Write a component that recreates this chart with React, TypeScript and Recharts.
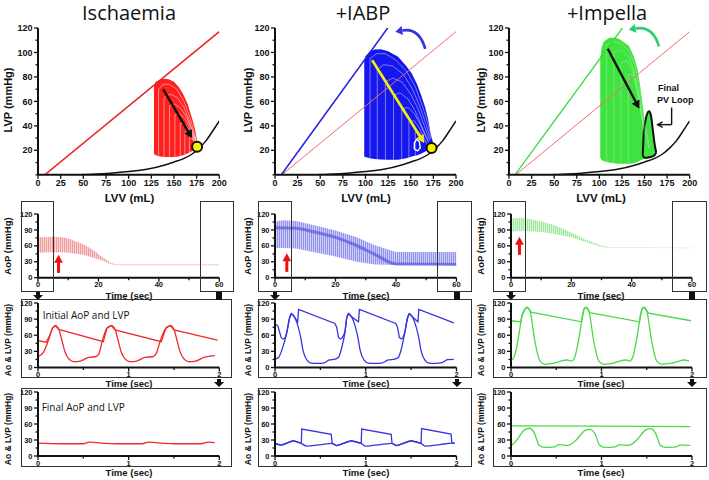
import React from "react";
import {
  ComposedChart,
  Line,
  Area,
  XAxis,
  YAxis,
  ReferenceLine,
  ReferenceDot,
} from "recharts";

// ---------- PV loop panels (LVV mL vs LVP mmHg) ----------
const lvvTicks = [0, 25, 50, 75, 100, 125, 150, 175, 200];
const lvpTicks = [0, 10, 20, 30, 40, 50, 60, 70, 80, 90, 100, 110, 120];
const lvpLabels = [20, 40, 60, 80, 100, 120];

const edpvr = [[40, 0], [60, 0.5], [80, 1.3], [100, 2.6], [120, 4.5], [140, 8], [150, 10.5], [160, 13], [170, 17], [178, 22], [185, 27.5], [192, 35], [200, 44]];

// ischaemia
const ischEspvr = [[7.5, 0], [200, 117]];
const ischFan = [[128, 17, 73], [130, 16, 76], [135, 15, 78], [140, 14.6, 78.5], [145, 14.5, 78], [150, 14.6, 76], [155, 15, 72], [160, 16, 66], [165, 17.5, 58], [170, 19.5, 46], [173, 21, 38], [175, 22.5, 30], [177, 24, 24]];
const ischLoops = [
  [[133, 16], [133, 70], [138, 74], [145, 74], [153, 70], [161, 60], [168, 46], [173, 33], [176, 25]],
  [[139, 15], [139, 63], [146, 66], [154, 63], [161, 55], [167, 44], [172, 33], [175.5, 25]],
  [[145, 15], [145, 56], [151, 58], [158, 54], [164, 47], [169, 38], [173, 30], [175, 25]],
  [[151, 15], [151, 49], [156, 50], [162, 46], [167, 39], [171, 32], [174.5, 26]],
  [[157, 15.5], [157, 42], [161, 42], [165, 39], [169, 34], [173, 28]],
  [[162, 16.5], [162, 35], [166, 35], [169, 32], [172, 28]],
  [[167, 18], [167, 30], [170, 30], [173, 26]],
];
const ischArrow = [[138, 70], [170, 30]];
const ischEnd = [175.5, 23];

// IABP
const iabpEspvr = [[7, 0], [124.5, 120]];
const iabpFan = [[98.6, 15, 93], [100, 14.5, 97], [105, 13.5, 101], [110, 13, 102.5], [117, 12.5, 102.6], [125, 12.3, 101], [136, 12.4, 96.6], [145, 13.5, 89], [151, 15, 83], [157, 16, 74], [162, 17.5, 64], [166, 19, 55], [169.3, 20.5, 45], [172, 21.5, 34], [174, 22, 28], [175.5, 23, 23]];
const iabpLoops = [
  [[105, 14], [105, 95], [112, 99], [122, 99], [133, 94], [145, 85], [155, 72], [163, 56], [169, 42], [173, 30]],
  [[113, 13], [113, 86], [120, 90], [130, 89], [142, 82], [152, 70], [160, 56], [167, 41], [172, 29]],
  [[122, 12.5], [122, 76], [130, 79], [140, 76], [150, 66], [158, 54], [165, 40], [171, 28]],
  [[131, 12.5], [131, 65], [138, 67], [147, 62], [155, 52], [162, 40], [169, 28]],
  [[140, 13], [140, 54], [147, 55], [154, 50], [160, 42], [166, 32], [170, 26]],
  [[148, 14], [148, 44], [154, 44], [159, 39], [164, 31], [168, 25]],
  [[155, 15], [155, 35], [160, 34], [165, 27]],
];
const iabpArrow = [[107.4, 93.6], [164.8, 26]];
const iabpCurl = [[166, 103], [133, 117]];
const iabpEnd = [173, 22];
const iabpLastLoop = [[154, 21], [154, 26], [156.5, 29], [159.5, 27], [160.5, 22], [157.5, 19.5], [154, 21]];

// Impella
const impEspvr = [[6.6, 0], [125.5, 120]];
const impFan = [[101, 14, 95], [102.5, 12, 104], [105, 11, 109], [111, 10, 112], [118, 9.3, 112], [122, 9, 111], [128, 9, 108], [133, 9, 105], [138, 9.5, 97], [142, 10.5, 87], [145, 11.5, 74], [147.5, 12.5, 60], [151, 13, 40], [154.6, 14.5, 24], [158, 16, 21], [162, 18, 19]];
const impLoops = [
  [[108, 10], [108, 106], [115, 109], [125, 107], [133, 101], [139, 90], [144, 74], [148, 55], [152, 35], [156, 22]],
  [[116, 9.5], [116, 100], [124, 102], [132, 97], [138, 86], [143, 70], [147, 52], [151, 33], [155, 21]],
  [[124, 9.5], [124, 92], [131, 93], [137, 85], [142, 70], [146, 52], [150, 33]],
  [[132, 10], [132, 82], [137, 82], [141, 72], [145, 56], [149, 38]],
];
const impArrow = [[109.3, 103], [144.3, 54]];
const impCurl = [[166, 105], [132.5, 118.7]];
const impLastLoop = [[148, 16, 16], [149, 14.5, 32], [151, 14, 44], [153, 14, 50], [155, 14.3, 52], [157, 14.6, 49], [159, 15, 38], [161, 16, 26], [163, 18, 18]];
const impCallout = [[180, 55], [180, 41], [164.5, 41]];

// ---------- pressure vs time panels ----------
const secTicks60 = [0, 10, 20, 30, 40, 50, 60];
const secLabels60 = [0, 20, 40, 60];
const secTicks2 = [0, 0.5, 1, 1.5, 2];
const secLabels2 = [0, 1, 2];
const mmTicks = [0, 15, 30, 45, 60, 75, 90, 105, 120];
const mmLabels = [0, 30, 60, 90, 120];

// AoP over 60 s: [t, min, max]
const ischAoP60 = [[0, 47, 76], [5, 48, 77], [8, 48, 76], [10, 47, 74], [15, 43, 63], [18, 38, 53], [21, 33, 40], [24, 26, 28], [26, 23.5, 25], [60, 23.5, 25]];
const iabpAoP60 = [[0, 56, 106], [3, 56, 108], [7, 55, 107], [13, 48, 99], [20, 40, 89], [27, 30, 76], [33, 25, 61], [40, 24, 48.5], [60, 24, 48.5]];
const iabpAoP60Dense = [[0, 94], [7, 93], [13, 86], [20, 76], [26, 63], [33, 44], [40, 26], [60, 25]];
const impAoP60 = [[0, 87, 112], [4, 88, 113], [10, 86, 106], [15, 82, 98], [20, 76, 85], [25, 67, 71], [30, 58, 60], [33, 56.5, 57.5], [60, 55.5, 56.5]];
const ischStartArrow = [[6.8, 9], [6.8, 43]];
const iabpStartArrow = [[3.9, 11], [3.9, 46]];
const impStartArrow = [[2.8, 43], [2.8, 77]];

// initial 2 s
const ischInitLVP = [[0, 20], [0.06, 28], [0.12, 53], [0.16, 73], [0.19, 78], [0.23, 71], [0.26, 53], [0.3, 28], [0.34, 16], [0.39, 11], [0.47, 12], [0.56, 19], [0.63, 20], [0.67, 25], [0.71, 50], [0.76, 73], [0.81, 78], [0.85, 71], [0.88, 53], [0.92, 28], [0.96, 16], [1.01, 11], [1.09, 12], [1.18, 19], [1.26, 20], [1.3, 25], [1.35, 50], [1.41, 73], [1.46, 78], [1.5, 71], [1.53, 53], [1.57, 28], [1.61, 16], [1.66, 11], [1.74, 12], [1.83, 19], [1.9, 21], [1.95, 22]];
const ischInitAoP = [[0, 50], [0.09, 47], [0.13, 60], [0.16, 73], [0.19, 78], [0.23, 71], [0.72, 48], [0.76, 73], [0.81, 78], [0.85, 70], [1.36, 48], [1.41, 73], [1.46, 78], [1.5, 70], [1.98, 51]];
const iabpInitLVP = [[0, 15.5], [0.04, 19], [0.09, 40], [0.13, 65], [0.16, 92], [0.18, 100], [0.21, 95], [0.24, 84], [0.28, 59], [0.31, 31], [0.35, 14], [0.4, 8], [0.47, 7.5], [0.53, 8], [0.6, 14], [0.66, 15.5], [0.7, 19], [0.74, 40], [0.77, 65], [0.79, 92], [0.81, 100], [0.84, 95], [0.87, 84], [0.91, 59], [0.94, 31], [0.98, 14], [1.03, 8], [1.1, 7.5], [1.17, 8], [1.25, 14], [1.32, 15.5], [1.36, 19], [1.4, 40], [1.43, 65], [1.46, 92], [1.48, 100], [1.51, 95], [1.54, 84], [1.58, 59], [1.61, 31], [1.65, 14], [1.7, 8], [1.77, 7.5], [1.84, 9], [1.9, 14.5], [1.97, 15]];
const iabpInitAoP = [[0, 81], [0.03, 78], [0.05, 66], [0.07, 55], [0.09, 53], [0.11, 55], [0.13, 65], [0.16, 92], [0.18, 100], [0.21, 95], [0.25, 85], [0.26, 108], [0.66, 82], [0.68, 75], [0.7, 56], [0.72, 53], [0.74, 55], [0.77, 65], [0.79, 92], [0.81, 100], [0.84, 95], [0.92, 85], [0.93, 108], [1.33, 82], [1.35, 75], [1.37, 56], [1.39, 53], [1.41, 55], [1.43, 65], [1.46, 92], [1.48, 100], [1.51, 95], [1.575, 85], [1.585, 108], [1.97, 83]];
const impInitLVP = [[0, 12.4], [0.04, 22], [0.085, 59], [0.12, 96], [0.16, 110], [0.18, 112], [0.21, 106], [0.23, 87], [0.26, 53], [0.29, 28], [0.32, 12], [0.38, 6], [0.47, 7.5], [0.55, 12], [0.62, 14], [0.67, 12], [0.71, 22], [0.755, 59], [0.79, 96], [0.81, 110], [0.83, 112], [0.86, 106], [0.88, 87], [0.91, 53], [0.94, 28], [0.97, 12], [1.03, 6], [1.12, 7.5], [1.2, 12], [1.27, 14], [1.31, 12], [1.35, 22], [1.395, 59], [1.43, 96], [1.45, 110], [1.47, 112], [1.5, 106], [1.52, 87], [1.55, 53], [1.58, 28], [1.61, 12], [1.67, 6], [1.76, 7.5], [1.84, 11], [1.91, 14], [1.97, 12]];
const impInitAoP = [[0, 87], [0.11, 85], [0.12, 96], [0.16, 110], [0.18, 112], [0.21, 106], [0.22, 103], [0.78, 85], [0.79, 96], [0.81, 110], [0.83, 112], [0.86, 106], [0.87, 102], [1.42, 85], [1.43, 96], [1.45, 110], [1.47, 112], [1.5, 106], [1.52, 101], [1.99, 87]];

// final 2 s
const ischFinal = [[0, 24], [0.25, 23], [0.5, 23], [0.57, 26], [0.65, 25], [0.9, 23], [1.15, 23], [1.22, 26], [1.3, 25], [1.55, 23], [1.8, 23], [1.88, 26], [1.95, 25]];
const iabpFinalLVP = [[0, 23.5], [0.07, 20.5], [0.2, 28.5], [0.29, 23.5], [0.35, 18.5], [0.51, 21.5], [0.63, 23.5], [0.68, 19.5], [0.84, 28.5], [0.95, 23.5], [1.0, 18.5], [1.16, 21.5], [1.29, 23.5], [1.34, 19.5], [1.5, 28.5], [1.61, 23.5], [1.66, 18.5], [1.82, 21.5], [1.95, 24], [1.98, 24]];
const iabpFinalAoP = [[0, 23.5], [0.07, 20.5], [0.2, 28.5], [0.29, 23.5], [0.295, 50.5], [0.62, 40.5], [0.63, 23.5], [0.68, 19.5], [0.84, 28.5], [0.95, 23.5], [0.955, 50.5], [1.28, 40.5], [1.29, 23.5], [1.34, 19.5], [1.5, 28.5], [1.61, 23.5], [1.615, 51.5], [1.94, 41], [1.95, 24], [1.98, 24]];
const impFinalLVP = [[0, 19], [0.05, 27], [0.15, 49], [0.2, 52], [0.26, 42.5], [0.31, 20], [0.37, 16], [0.48, 17], [0.53, 21.5], [0.59, 20], [0.65, 21], [0.72, 30], [0.82, 48], [0.87, 50], [0.93, 41], [0.98, 20], [1.04, 16], [1.15, 17], [1.2, 21.5], [1.26, 20], [1.32, 21], [1.39, 30], [1.49, 49], [1.54, 51.5], [1.6, 42], [1.65, 20], [1.71, 16], [1.82, 17], [1.88, 21], [1.94, 20], [1.98, 20]];
const impFinalAoP = [[0, 56.5], [1, 56], [1.98, 55]];

// ---------- helpers ----------
const RED = "#ee2a2a";
const BLUE = "#3434e0";
const GREEN = "#4ad84a";
const FONT = "'Liberation Sans', Arial, sans-serif";
const TITLE_FONT = "'Open Sans', 'Liberation Sans', sans-serif";

const xy = (a: number[][]) => a.map(([x, y]) => ({ x, y }));
const rng = (a: number[][]) => a.map(([x, lo, hi]) => ({ x, r: [lo, hi] }));
const seg = (a: number[][]) => [{ x: a[0][0], y: a[0][1] }, { x: a[1][0], y: a[1][1] }];

type Frame = { x0: number; x1: number; yT: number; yB: number };
const YW = 34, XH = 22, TP = 8, RP = 8;

function XTick(p: any) {
  const { x, y, payload, labels, fs } = p;
  const major = labels.includes(payload.value);
  const len = major ? 4 : 2.5;
  return (
    <g>
      <line x1={x} x2={x} y1={y} y2={y + len} stroke="#111" strokeWidth={1.3} />
      {major && (
        <text x={x} y={y + len + fs * 0.75} textAnchor="middle" fontSize={fs} fontWeight="bold" fontFamily={FONT} fill="#111">
          {payload.value}
        </text>
      )}
    </g>
  );
}

function YTick(p: any) {
  const { x, y, payload, labels, fs } = p;
  const major = labels.includes(payload.value);
  const len = major ? 4 : 2.5;
  return (
    <g>
      <line x1={x - len} x2={x} y1={y} y2={y} stroke="#111" strokeWidth={1.3} />
      {major && (
        <text x={x - len - 1.5} y={y + fs * 0.35} textAnchor="end" fontSize={fs} fontWeight="bold" fontFamily={FONT} fill="#111">
          {payload.value}
        </text>
      )}
    </g>
  );
}

function Panel(props: any) {
  const { f, xDomain, xTicks, xLabels, yTicks, yLabels, fs, children } = props;
  const w = f.x1 - f.x0 + YW + RP;
  const h = f.yB - f.yT + TP + XH;
  const axis = { stroke: "#111", strokeWidth: 2 };
  return (
    <div style={{ position: "absolute", left: f.x0 - YW, top: f.yT - TP }}>
      <ComposedChart width={w} height={h} margin={{ top: TP, right: RP, bottom: 0, left: 0 }}>
        <XAxis
          type="number"
          dataKey="x"
          domain={xDomain}
          ticks={xTicks}
          interval={0}
          allowDataOverflow
          height={XH}
          tickSize={0}
          tickMargin={0}
          tickLine={false}
          axisLine={axis}
          tick={(p: any) => <XTick {...p} labels={xLabels} fs={fs} />}
        />
        <YAxis
          type="number"
          domain={[0, 120]}
          ticks={yTicks}
          interval={0}
          allowDataOverflow
          width={YW}
          tickSize={0}
          tickMargin={0}
          tickLine={false}
          axisLine={axis}
          tick={(p: any) => <YTick {...p} labels={yLabels} fs={fs} />}
        />
        {children}
      </ComposedChart>
    </div>
  );
}

const arrowShape = (color: string, w: number, head: number, open = false) => (p: any) => {
  const { x1, y1, x2, y2 } = p;
  const dx = x2 - x1, dy = y2 - y1;
  const len = Math.hypot(dx, dy) || 1;
  const ux = dx / len, uy = dy / len;
  const bx = x2 - ux * head, by = y2 - uy * head;
  const px = -uy * head * 0.55, py = ux * head * 0.55;
  if (open) {
    return (
      <g>
        <line x1={x1} y1={y1} x2={x2} y2={y2} stroke={color} strokeWidth={w} />
        <polyline points={`${bx + px},${by + py} ${x2},${y2} ${bx - px},${by - py}`} fill="none" stroke={color} strokeWidth={w} />
      </g>
    );
  }
  return (
    <g>
      <line x1={x1} y1={y1} x2={bx + ux} y2={by + uy} stroke={color} strokeWidth={w} />
      <polygon points={`${x2},${y2} ${bx + px},${by + py} ${bx - px},${by - py}`} fill={color} />
    </g>
  );
};

const curlShape = (color: string) => (p: any) => {
  const { x1, y1, x2, y2 } = p;
  const cx = x1 + 0.2 * (x2 - x1), cy = Math.min(y1, y2) - 4;
  const tx = x2 - cx, ty = y2 - cy;
  const l = Math.hypot(tx, ty) || 1;
  const ux = tx / l, uy = ty / l;
  const head = 7;
  const bx = x2 - ux * head, by = y2 - uy * head;
  const px = -uy * 4.5, py = ux * 4.5;
  return (
    <g>
      <path d={`M${x1},${y1} Q${cx},${cy} ${bx},${by}`} fill="none" stroke={color} strokeWidth={2.6} />
      <polygon points={`${x2},${y2} ${bx + px},${by + py} ${bx - px},${by - py}`} fill={color} />
    </g>
  );
};

const plainLine = (data: number[][], stroke: string, width: number, type: any = "linear", key?: any, opacity = 1) => (
  <Line key={key} data={xy(data)} dataKey="y" type={type} stroke={stroke} strokeWidth={width} strokeOpacity={opacity} dot={false} isAnimationActive={false} />
);

function Text({ x, y, size, bold, children, family, anchor = "middle" }: any) {
  const tx = anchor === "middle" ? "-50%" : "0";
  return (
    <div
      style={{
        position: "absolute",
        left: x,
        top: y,
        transform: `translate(${tx}, -50%)`,
        fontSize: size,
        fontWeight: bold ? "bold" : "normal",
        fontFamily: family || FONT,
        whiteSpace: "nowrap",
        lineHeight: 1,
        color: "#111",
      }}
    >
      {children}
    </div>
  );
}

function VText({ x, y, size, children }: any) {
  return (
    <div
      style={{
        position: "absolute",
        left: x,
        top: y,
        transform: "translate(-50%, -50%) rotate(-90deg)",
        fontSize: size,
        fontWeight: "bold",
        fontFamily: FONT,
        whiteSpace: "nowrap",
        lineHeight: 1,
        color: "#111",
      }}
    >
      {children}
    </div>
  );
}

function Box({ l, t, r, b }: any) {
  return (
    <div
      style={{
        position: "absolute",
        left: l,
        top: t,
        width: r - l,
        height: b - t,
        border: "1.3px solid #333",
        boxSizing: "border-box",
        pointerEvents: "none",
      }}
    />
  );
}

function DownArrow({ x, y, block }: any) {
  return (
    <svg style={{ position: "absolute", left: x - 5, top: y }} width={10} height={9}>
      {block ? (
        <rect x={2} y={0} width={6} height={8} fill="#111" />
      ) : (
        <polygon points="3,0 7,0 7,3 10,3 5,8 0,3 3,3" fill="#111" />
      )}
    </svg>
  );
}

const PV_Y = { yT: 27.7, yB: 174.5 };
const pvFrames: Frame[] = [
  { x0: 37.7, x1: 219, ...PV_Y },
  { x0: 275, x1: 456, ...PV_Y },
  { x0: 509.3, x1: 690, ...PV_Y },
];
const cols = [
  { x0: 37.7, x1: 219 },
  { x0: 275, x1: 456.5 },
  { x0: 510.5, x1: 691.5 },
];
const ROW2 = { yT: 214, yB: 277.7 };
const ROW3 = { yT: 302.5, yB: 367 };
const ROW4 = { yT: 392, yB: 456 };

function PV({ f, children }: any) {
  return (
    <Panel f={f} xDomain={[0, 200]} xTicks={lvvTicks} xLabels={lvvTicks} yTicks={lvpTicks} yLabels={lvpLabels} fs={9}>
      {children}
    </Panel>
  );
}

function TS({ f, sixty, children }: any) {
  return (
    <Panel
      f={f}
      xDomain={sixty ? [0, 60] : [0, 2]}
      xTicks={sixty ? secTicks60 : secTicks2}
      xLabels={sixty ? secLabels60 : secLabels2}
      yTicks={mmTicks}
      yLabels={mmLabels}
      fs={7.5}
    >
      {children}
    </Panel>
  );
}

const fan = (data: number[][], fill: string) => (
  <Area data={rng(data)} dataKey="r" type="linear" fill={fill} fillOpacity={1} stroke="none" isAnimationActive={false} />
);

const band = (data: number[][], pattern: string) => (
  <Area data={rng(data)} dataKey="r" type="linear" fill={`url(#${pattern})`} fillOpacity={1} stroke="none" isAnimationActive={false} />
);

export default function App() {
  return (
    <div
      style={{
        position: "fixed",
        left: 0,
        top: 0,
        width: 709,
        height: 480,
        background: "#fff",
        overflow: "hidden",
        fontFamily: FONT,
      }}
    >
      <svg width={0} height={0} style={{ position: "absolute" }}>
        <defs>
          <pattern id="stRed" width="2" height="4" patternUnits="userSpaceOnUse">
            <rect width="2" height="4" fill="#fbd6d6" />
            <rect width="1" height="4" fill="#f29a9a" />
          </pattern>
          <pattern id="stBlue" width="2" height="4" patternUnits="userSpaceOnUse">
            <rect width="2" height="4" fill="#cfcff8" />
            <rect width="1" height="4" fill="#9090ee" />
          </pattern>
          <pattern id="stGreen" width="2" height="4" patternUnits="userSpaceOnUse">
            <rect width="2" height="4" fill="#d6f6d6" />
            <rect width="1" height="4" fill="#9ee89e" />
          </pattern>
        </defs>
      </svg>

      {/* titles */}
      <Text x={129} y={13} size={20} family={TITLE_FONT}>Ischaemia</Text>
      <Text x={363} y={13} size={20} family={TITLE_FONT}>+IABP</Text>
      <Text x={607} y={13} size={20} family={TITLE_FONT}>+Impella</Text>

      {/* ---- PV loops ---- */}
      <PV f={pvFrames[0]}>
        {fan(ischFan, "#ff1f1f")}
        {ischLoops.map((l, i) => plainLine(l, "#ffffff", 0.8, "linear", "l" + i, 0.6))}
        {plainLine(ischEspvr, "#e82020", 1.5)}
        {plainLine(edpvr, "#111", 1.5, "monotone")}
        <ReferenceLine segment={seg(ischArrow)} shape={arrowShape("#111", 2.4, 8)} ifOverflow="visible" />
        <ReferenceDot x={ischEnd[0]} y={ischEnd[1]} r={5} fill="#f5f500" stroke="#111" strokeWidth={2} ifOverflow="visible" />
      </PV>
      <PV f={pvFrames[1]}>
        {fan(iabpFan, "#1616ee")}
        {iabpLoops.map((l, i) => plainLine(l, "#ffffff", 0.8, "linear", "l" + i, 0.55))}
        {plainLine(iabpLastLoop, "#ffffff", 1.4)}
        {plainLine(ischEspvr, "#ef6b6b", 1)}
        {plainLine(iabpEspvr, "#2020e0", 1.5)}
        {plainLine(edpvr, "#111", 1.5, "monotone")}
        <ReferenceLine segment={seg(iabpArrow)} shape={arrowShape("#f2f20a", 2.6, 8)} ifOverflow="visible" />
        <ReferenceLine segment={seg(iabpCurl)} shape={curlShape("#3333e0")} ifOverflow="visible" />
        <ReferenceDot x={iabpEnd[0]} y={iabpEnd[1]} r={5} fill="#f5f500" stroke="#111" strokeWidth={2} ifOverflow="visible" />
      </PV>
      <PV f={pvFrames[2]}>
        {fan(impFan, "#3fe33f")}
        {impLoops.map((l, i) => plainLine(l, "#ffffff", 0.7, "linear", "l" + i, 0.35))}
        {plainLine(ischEspvr, "#ef6b6b", 1)}
        {plainLine(impEspvr, "#3ad83a", 1.3)}
        {plainLine(edpvr, "#111", 1.5, "monotone")}
        <Area data={rng(impLastLoop)} dataKey="r" type="monotone" fill="#3fe33f" fillOpacity={1} stroke="#111" strokeWidth={2} isAnimationActive={false} />
        <ReferenceLine segment={seg(impArrow)} shape={arrowShape("#111", 2.4, 8)} ifOverflow="visible" />
        <ReferenceLine segment={seg(impCurl)} shape={curlShape("#2ecc71")} ifOverflow="visible" />
        <ReferenceLine segment={seg(impCallout.slice(0, 2))} stroke="#111" strokeWidth={1.4} ifOverflow="visible" />
        <ReferenceLine segment={seg(impCallout.slice(1, 3))} shape={arrowShape("#111", 1.4, 5, true)} ifOverflow="visible" />
      </PV>

      <VText x={7.5} y={100} size={11}>LVP (mmHg)</VText>
      <VText x={247.5} y={100} size={11}>LVP (mmHg)</VText>
      <VText x={481} y={100} size={11}>LVP (mmHg)</VText>
      <Text x={129.5} y={199} size={11.5} bold>LVV (mL)</Text>
      <Text x={366} y={199} size={11.5} bold>LVV (mL)</Text>
      <Text x={601} y={199} size={11.5} bold>LVV (mL)</Text>
      <Text x={658} y={88} size={9} bold anchor="start">Final</Text>
      <Text x={657} y={100} size={9} bold anchor="start">PV Loop</Text>

      {/* ---- AoP over 60 s ---- */}
      <TS f={{ ...cols[0], ...ROW2 }} sixty>
        {band(ischAoP60, "stRed")}
        <ReferenceLine segment={seg(ischStartArrow)} shape={arrowShape("#ee1111", 3, 8)} ifOverflow="visible" />
      </TS>
      <TS f={{ ...cols[1], ...ROW2 }} sixty>
        {band(iabpAoP60, "stBlue")}
        {plainLine(iabpAoP60Dense, "#4a4ad8", 3, "monotone", undefined, 0.6)}
        <ReferenceLine segment={seg(iabpStartArrow)} shape={arrowShape("#ee1111", 3, 8)} ifOverflow="visible" />
      </TS>
      <TS f={{ ...cols[2], ...ROW2 }} sixty>
        {band(impAoP60, "stGreen")}
        <ReferenceLine segment={seg(impStartArrow)} shape={arrowShape("#ee1111", 3, 8)} ifOverflow="visible" />
      </TS>

      {/* ---- initial AoP and LVP ---- */}
      <TS f={{ ...cols[0], ...ROW3 }}>
        {plainLine(ischInitLVP, RED, 1.3, "monotone")}
        {plainLine(ischInitAoP, RED, 1.3)}
      </TS>
      <TS f={{ ...cols[1], ...ROW3 }}>
        {plainLine(iabpInitLVP, BLUE, 1.3, "monotone")}
        {plainLine(iabpInitAoP, BLUE, 1.3)}
      </TS>
      <TS f={{ ...cols[2], ...ROW3 }}>
        {plainLine(impInitLVP, GREEN, 1.3, "monotone")}
        {plainLine(impInitAoP, GREEN, 1.3)}
      </TS>

      {/* ---- final AoP and LVP ---- */}
      <TS f={{ ...cols[0], ...ROW4 }}>{plainLine(ischFinal, RED, 1.3, "monotone")}</TS>
      <TS f={{ ...cols[1], ...ROW4 }}>
        {plainLine(iabpFinalLVP, BLUE, 1.3, "monotone")}
        {plainLine(iabpFinalAoP, BLUE, 1.3)}
      </TS>
      <TS f={{ ...cols[2], ...ROW4 }}>
        {plainLine(impFinalAoP, GREEN, 1.3)}
        {plainLine(impFinalLVP, GREEN, 1.3, "monotone")}
      </TS>

      <Text x={42.7} y={315} size={10} family={TITLE_FONT} anchor="start">Initial AoP and LVP</Text>
      <Text x={41.7} y={406.7} size={10} family={TITLE_FONT} anchor="start">Final AoP and LVP</Text>

      {[8, 248.3, 481].map((x) => (
        <React.Fragment key={x}>
          <VText x={x} y={246} size={9.5}>AoP (mmHg)</VText>
          <VText x={x} y={340} size={8.5}>Ao &amp; LVP (mmHg)</VText>
          <VText x={x} y={429} size={8.5}>Ao &amp; LVP (mmHg)</VText>
        </React.Fragment>
      ))}
      {[129, 366, 601].map((x) => (
        <React.Fragment key={x}>
          <Text x={x} y={295.5} size={9.5} bold>Time (sec)</Text>
          <Text x={x} y={383.5} size={9.5} bold>Time (sec)</Text>
          <Text x={x} y={472.5} size={9.5} bold>Time (sec)</Text>
        </React.Fragment>
      ))}

      {/* zoom boxes */}
      <Box l={20.7} t={201} r={54.3} b={291.7} />
      <Box l={200} t={201} r={234.3} b={291.7} />
      <Box l={257.7} t={201} r={292.3} b={291.7} />
      <Box l={437.3} t={201} r={471.7} b={291.7} />
      <Box l={492.7} t={201} r={526} b={291.7} />
      <Box l={671.7} t={201} r={706.7} b={291.7} />
      <Box l={20.7} t={299} r={232} b={377.7} />
      <Box l={257.7} t={299} r={471.7} b={377.7} />
      <Box l={492.7} t={299} r={706.7} b={377.7} />
      <Box l={20.7} t={388.3} r={232} b={466.7} />
      <Box l={257.7} t={388.3} r={471.7} b={466.7} />
      <Box l={492.7} t={388.3} r={706.7} b={466.7} />

      <DownArrow x={37.7} y={291.5} />
      <DownArrow x={275} y={291.5} />
      <DownArrow x={510.5} y={291.5} />
      <DownArrow x={219} y={291.5} block />
      <DownArrow x={456.5} y={291.5} block />
      <DownArrow x={691.5} y={291.5} block />
      <DownArrow x={219} y={378.5} />
      <DownArrow x={456.5} y={378.5} />
      <DownArrow x={691.5} y={378.5} />
    </div>
  );
}
